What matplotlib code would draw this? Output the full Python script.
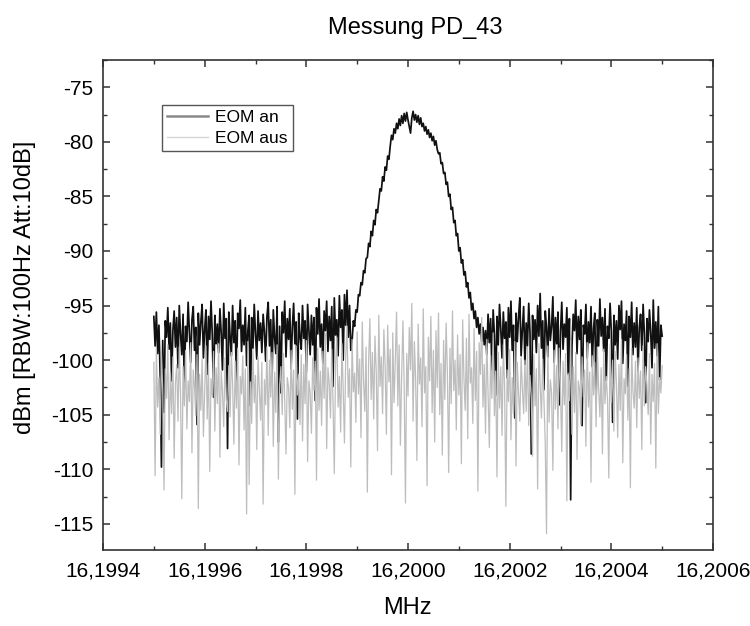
import numpy as np
import matplotlib
matplotlib.use("Agg")
import matplotlib.pyplot as plt
from matplotlib.ticker import FuncFormatter, MultipleLocator

plt.rcParams['font.family'] = ['Liberation Sans', 'DejaVu Sans']
plt.rcParams['axes.unicode_minus'] = False

# sweep grid of the analyser (MHz)
f_start, f_stop = 16.1995, 16.2005

# EOM an: noise left of the carrier, carrier, noise right of it (dBm)
an_left = [
    -96.0, -98.7, -95.6, -99.4, -96.8, -101.5, -109.8, -98.2, -104.8, -96.4,
    -97.9, -95.2, -99.0, -96.6, -101.9, -97.3, -95.5, -98.8, -96.1, -100.7,
    -95.0, -97.6, -99.5, -95.8, -102.6, -96.9, -98.3, -94.7, -97.4, -100.2,
    -96.3, -95.1, -99.1, -97.0, -105.9, -95.7, -98.6, -96.5, -94.9, -99.8,
    -97.2, -95.4, -101.3, -96.0, -98.1, -94.6, -97.7, -103.4, -95.9, -98.5,
    -96.7, -99.3, -95.3, -97.5, -100.9, -94.8, -98.0, -96.2, -108.1, -95.6,
    -97.8, -99.6, -95.0, -98.4, -96.4, -102.1, -95.7, -97.1, -94.5, -99.2,
    -96.8, -98.6, -95.2, -100.5, -97.3, -95.9, -104.2, -96.1, -98.9, -94.9,
    -97.6, -99.9, -95.5, -98.2, -96.6, -99.3, -95.8, -97.4, -100.1, -96.0,
    -94.7, -98.7, -96.3, -101.8, -95.4, -97.9, -99.4, -95.1, -107.5, -96.9,
    -103.0, -95.6, -97.5, -94.6, -99.7, -96.2, -98.1, -95.3, -100.8, -97.0,
    -94.8, -98.5, -96.5, -105.4, -95.7, -97.8, -99.0, -95.0, -98.0, -96.4,
    -101.1, -94.9, -97.2, -99.5, -95.9, -98.6, -96.1, -103.7, -95.2, -97.6,
    -94.4, -98.8, -96.7, -100.3, -95.5, -97.3, -94.6, -99.2, -96.0, -98.2,
    -95.1, -102.4, -94.3, -97.7, -96.3, -99.6, -94.1, -97.0, -95.4, -100.0,
    -94.0, -96.8, -93.6, -97.9, -95.0, -99.1,
]
an_peak = [
    -98.2, -96.4, -96.9, -95.4,
    -95.6, -94.0, -94.1, -92.9, -93.1, -91.8, -92.0, -90.7,
    -90.6, -89.3, -89.6, -88.2, -88.6, -87.2, -87.6, -86.2, -86.5,
    -85.4, -84.3, -84.5, -83.2, -83.6, -82.3, -82.6, -81.3, -81.6,
    -80.4, -79.4, -79.8, -78.8, -79.2, -78.3, -78.8, -77.9, -78.5,
    -77.6, -78.3, -77.4, -78.1, -77.3, -78.0, -78.6, -79.2, -77.8,
    -77.2, -78.0, -77.5, -78.2, -77.6, -78.4, -77.8, -78.6,
    -78.3, -79.0, -78.6, -79.3, -78.9, -79.6, -79.2, -79.9, -79.5, -80.3, -79.9, -80.7,
    -81.1, -81.0, -82.0, -81.9, -82.9, -82.8, -83.9, -83.7,
    -85.0, -84.8, -86.2, -86.0, -87.4, -87.2, -88.6, -88.4,
    -90.0, -89.7, -91.1, -90.8, -92.2, -91.9, -93.3, -92.9, -94.3, -93.8,
    -95.4, -94.8, -96.2, -95.5, -97.0, -96.1, -97.6, -96.7, -98.3, -97.0, -98.6,
]
an_right = [
    -97.3, -99.5, -95.8, -98.4, -96.2, -100.9, -95.4, -97.7, -103.2, -96.0,
    -98.6, -94.9, -97.1, -99.8, -95.6, -98.0, -96.5, -101.6, -95.2, -97.9,
    -94.6, -99.1, -96.8, -105.3, -95.7, -98.3, -96.0, -94.3, -99.6, -97.2,
    -95.1, -100.4, -96.6, -98.7, -94.8, -97.5, -108.6, -95.9, -98.1, -96.3,
    -99.3, -95.0, -97.8, -93.9, -98.9, -96.4, -102.7, -95.5, -97.0, -99.7,
    -95.3, -98.2, -96.9, -94.2, -100.2, -96.1, -98.5, -95.6, -104.1, -97.4,
    -94.7, -99.0, -96.7, -97.9, -95.2, -101.3, -96.2, -112.8, -98.8, -95.8,
    -97.3, -94.5, -99.4, -96.0, -98.1, -95.4, -106.0, -96.8, -97.6, -94.9,
    -99.8, -96.5, -98.4, -95.1, -100.6, -97.1, -95.7, -103.6, -96.3, -98.7,
    -94.4, -97.8, -96.1, -99.2, -95.3, -101.9, -96.9, -98.0, -94.8, -97.4,
    -105.7, -95.9, -98.6, -96.4, -99.9, -95.0, -97.2, -94.6, -100.3, -96.7,
    -98.2, -95.5, -102.4, -96.0, -97.9, -94.7, -99.5, -96.6, -98.8, -95.2,
    -101.0, -97.0, -95.8, -99.1, -94.9, -97.6, -103.9, -96.2, -98.3, -95.4,
    -97.5, -100.7, -94.5, -98.9, -96.5, -99.6, -95.1, -101.8, -96.8, -97.8,
]
eom_an = an_left + an_peak + an_right

# EOM aus (dBm)
eom_aus = [
    -100.2, -110.6, -98.9, -104.3, -101.6, -106.8, -99.4, -102.7, -111.9, -100.8,
    -103.5, -98.6, -107.3, -101.2, -104.9, -99.7, -109.0, -102.1, -100.4, -105.6,
    -98.8, -103.0, -112.7, -100.6, -104.2, -99.1, -106.3, -101.9, -103.8, -98.4,
    -108.5, -100.9, -102.4, -105.1, -99.5, -113.6, -101.3, -104.6, -99.9, -107.0,
    -102.8, -98.7, -105.4, -100.3, -110.2, -101.7, -103.3, -99.2, -106.5, -100.7,
    -104.0, -98.5, -108.9, -101.0, -102.9, -106.1, -99.8, -103.6, -104.7, -100.5,
    -105.2, -99.3, -102.2, -107.7, -100.1, -104.4, -98.9, -109.6, -101.5, -103.1,
    -99.6, -106.4, -100.8, -114.1, -98.3, -111.4, -102.0, -105.8, -99.0, -103.9,
    -101.4, -108.2, -99.7, -102.6, -105.5, -100.2, -113.2, -101.8, -104.1, -98.8,
    -106.9, -100.0, -103.4, -99.3, -107.9, -101.1, -104.8, -98.6, -110.9, -102.3,
    -100.6, -105.0, -99.4, -103.7, -108.6, -101.6, -102.5, -106.2, -99.1, -104.5,
    -100.9, -112.3, -98.7, -103.2, -101.3, -105.9, -99.5, -107.4, -100.4, -104.0,
    -98.2, -109.3, -101.9, -103.0, -106.7, -99.8, -102.8, -100.1, -111.0, -98.9,
    -104.6, -101.0, -106.0, -99.2, -103.5, -97.6, -108.1, -100.7, -102.1, -105.3,
    -99.0, -103.8, -110.4, -100.3, -97.9, -104.3, -101.5, -106.6, -98.5, -102.7,
    -107.6, -99.6, -96.9, -103.4, -100.8, -109.8, -98.1, -102.9, -101.2, -105.7,
    -97.4, -103.1, -99.9, -107.1, -96.5, -101.8, -104.7, -98.8, -112.1, -100.2,
    -96.2, -103.6, -99.3, -105.4, -97.8, -101.0, -108.3, -95.9, -102.4, -99.7,
    -104.9, -97.2, -100.5, -106.8, -96.8, -102.0, -99.0, -110.5, -97.5, -103.9,
    -100.0, -95.6, -104.2, -98.6, -107.8, -101.4, -96.4, -102.6, -113.1, -99.4,
    -103.3, -97.0, -100.9, -94.8, -105.6, -98.3, -101.7, -109.2, -96.7, -102.2,
    -99.8, -106.1, -95.3, -103.0, -100.6, -111.5, -97.9, -101.9, -96.0, -104.8,
    -99.1, -107.5, -97.3, -102.5, -95.7, -105.0, -100.3, -108.7, -98.2, -103.6,
    -96.6, -101.2, -110.3, -98.9, -104.0, -95.5, -102.8, -100.0, -106.4, -97.7,
    -103.2, -99.5, -109.5, -96.3, -101.6, -104.6, -98.0, -107.2, -95.8, -102.1,
    -100.7, -105.8, -97.1, -103.7, -99.2, -112.0, -98.4, -101.3, -96.1, -104.3,
    -100.4, -106.7, -98.1, -102.9, -108.0, -99.6, -103.5, -97.5, -105.1, -101.0,
    -110.7, -99.3, -104.4, -100.6, -106.9, -98.6, -102.4, -113.4, -100.9, -103.8,
    -99.0, -107.3, -101.6, -104.9, -98.3, -109.7, -100.2, -103.1, -105.6, -99.8,
    -102.6, -104.9, -100.0, -104.7, -98.8, -106.0, -101.4, -103.3, -108.8, -99.5,
    -104.2, -100.8, -111.8, -98.5, -102.2, -105.3, -99.9, -103.9, -107.6, -115.9,
    -98.7, -105.7, -101.8, -103.0, -110.1, -99.1, -104.5, -100.5, -106.3, -98.9,
    -102.8, -108.4, -100.1, -104.1, -99.4, -112.9, -101.2, -103.7, -98.2, -106.8,
    -100.6, -104.8, -99.3, -109.1, -101.9, -102.7, -105.9, -99.7, -103.4, -100.9,
    -107.9, -98.4, -104.3, -101.1, -111.2, -99.6, -103.2, -100.2, -106.1, -98.8,
    -102.5, -105.2, -100.7, -108.6, -99.0, -104.0, -101.5, -103.6, -110.8, -98.6,
    -103.9, -100.0, -106.5, -99.2, -102.1, -107.1, -100.4, -104.6, -98.1, -109.4,
    -101.7, -103.1, -99.5, -105.5, -100.8, -111.7, -98.9, -102.9, -104.4, -100.1,
    -106.2, -99.8, -103.5, -101.0, -108.2, -98.7, -104.2, -100.6, -102.3, -105.0,
    -99.4, -107.7, -101.3, -103.8, -100.3, -109.9, -98.5, -104.9, -101.6, -103.0,
    -100.5,
]

xticks = [16.1994, 16.1996, 16.1998, 16.2000, 16.2002, 16.2004, 16.2006]
yticks = [-115, -110, -105, -100, -95, -90, -85, -80, -75]

f_an = np.linspace(f_start, f_stop, len(eom_an))
f_aus = np.linspace(f_start, f_stop, len(eom_aus))

fig = plt.figure(figsize=(7.5, 6.26), dpi=100)
ax = fig.add_axes([103 / 750, 76 / 626, 610 / 750, 490 / 626])

ax.plot(f_an, eom_an, color='#111111', lw=1.25, label='EOM an')
ax.plot(f_aus, eom_aus, color='#bdbdbd', lw=0.9, label='EOM aus')

ax.set_xlim(16.1994, 16.2006)
ax.set_ylim(-117.4, -72.5)
ax.set_xticks(xticks)
ax.set_yticks(yticks)
ax.xaxis.set_minor_locator(MultipleLocator(0.0001))
ax.yaxis.set_minor_locator(MultipleLocator(2.5))
ax.xaxis.set_major_formatter(FuncFormatter(lambda v, p: f"{v:.4f}".replace('.', ',')))
ax.yaxis.set_major_formatter(FuncFormatter(lambda v, p: f"{v:.0f}"))

ax.tick_params(which='both', direction='in', top=True, right=True, color='#333333')
ax.tick_params(which='major', length=5, width=1.1, labelsize=15, pad=8)
ax.tick_params(axis='y', which='major', pad=7)
ax.tick_params(which='minor', length=3, width=1.0)
for s in ax.spines.values():
    s.set_linewidth(1.2)
    s.set_color('#333333')

leg = ax.legend(loc='upper left', bbox_to_anchor=(0.096, 0.908), borderaxespad=0,
                fontsize=12.5, handlelength=2.4, handletextpad=0.4, labelspacing=0.3,
                borderpad=0.3, fancybox=False, framealpha=1, edgecolor='#555555')
leg.get_frame().set_linewidth(1.0)
leg.get_lines()[0].set_color('#8a8a8a')
leg.get_lines()[0].set_linewidth(1.8)
leg.get_lines()[1].set_color('#d6d6d6')
leg.get_lines()[1].set_linewidth(1.0)

fig.text(415 / 750, 1 - 28 / 626, 'Messung PD_43', fontsize=17, ha='center', va='center')
fig.text(407 / 750, 1 - 608 / 626, 'MHz', fontsize=17, ha='center', va='center')
fig.text(25 / 750, 1 - 287 / 626, 'dBm [RBW:100Hz Att:10dB]', fontsize=17,
         rotation=90, ha='center', va='center')

fig.savefig('out.png', dpi=100)
